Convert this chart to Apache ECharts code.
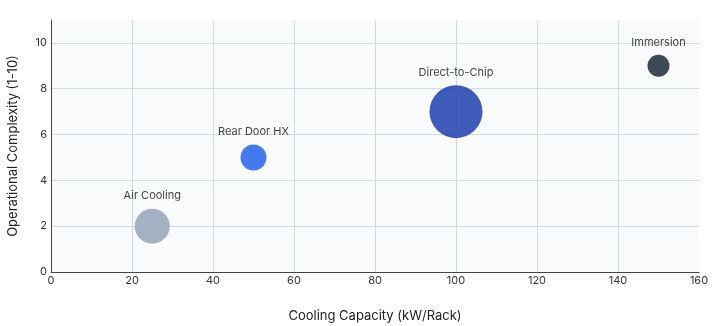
<!DOCTYPE html>
<html>
<head>
<meta charset="utf-8">
<script src="https://cdn.jsdelivr.net/npm/echarts@6/dist/echarts.min.js"></script>
<style>
  html, body { margin: 0; padding: 0; background: #ffffff; }
  #chart { width: 712px; height: 326px; }
</style>
</head>
<body>
<div id="chart"></div>
<script>
// Cooling approaches: capacity per rack vs. operational complexity
const methods = ['Air Cooling', 'Rear Door HX', 'Direct-to-Chip', 'Immersion'];
const capacityKw = [25, 50, 100, 150];
const complexity = [2, 5, 7, 9];
const bubbleSize = [35, 26, 53, 22];
const colors = ['#94a3b8', '#2563eb', '#1e40af', '#1f2937'];

const xTicks = [0, 20, 40, 60, 80, 100, 120, 140, 160];
const yTicks = [0, 2, 4, 6, 8, 10];

const FONT = 'Inter, "Noto Sans", sans-serif';

const chart = echarts.init(document.getElementById('chart'), null, { renderer: 'canvas' });

const seriesData = methods.map((name, i) => ({
  name: name,
  value: [capacityKw[i], complexity[i], bubbleSize[i]],
  itemStyle: { color: colors[i], opacity: 0.85 }
}));

chart.setOption({
  animation: false,
  textStyle: { fontFamily: FONT },
  grid: {
    left: 51, right: 13, top: 20, bottom: 54,
    outerBoundsMode: 'none',
    containLabel: false,
    show: true, backgroundColor: '#f8fafc', borderWidth: 0
  },
  xAxis: {
    type: 'value',
    min: xTicks[0], max: xTicks[xTicks.length - 1],
    interval: xTicks[1] - xTicks[0],
    name: 'Cooling Capacity (kW/Rack)',
    nameLocation: 'middle',
    nameGap: 38,
    nameTextStyle: { fontFamily: FONT, fontSize: 13, color: '#222' },
    axisLine: { show: true, onZero: false, lineStyle: { color: '#444', width: 1 } },
    axisTick: { show: false },
    axisLabel: { fontFamily: FONT, fontSize: 11, color: '#333', margin: 3 },
    splitLine: { show: true, showMaxLine: false, lineStyle: { color: '#d3dae4', width: 1 } }
  },
  yAxis: {
    type: 'value',
    min: yTicks[0], max: 11,
    interval: yTicks[1] - yTicks[0],
    name: 'Operational Complexity (1-10)',
    nameLocation: 'middle',
    nameGap: 31,
    nameTextStyle: { fontFamily: FONT, fontSize: 13, color: '#222' },
    axisLine: { show: true, onZero: false, lineStyle: { color: '#444', width: 1 } },
    axisTick: { show: false },
    axisLabel: { fontFamily: FONT, fontSize: 11, color: '#333', margin: 4, showMaxLabel: false },
    splitLine: { show: true, showMaxLine: false, lineStyle: { color: '#d3dae4', width: 1 } }
  },
  series: [{
    type: 'scatter',
    data: seriesData,
    symbolSize: (val) => val[2],
    label: {
      show: true,
      position: 'top',
      distance: 7,
      formatter: (p) => p.name,
      fontFamily: FONT,
      fontSize: 11,
      color: '#222'
    },
    emphasis: { disabled: true }
  }]
});
</script>
</body>
</html>
